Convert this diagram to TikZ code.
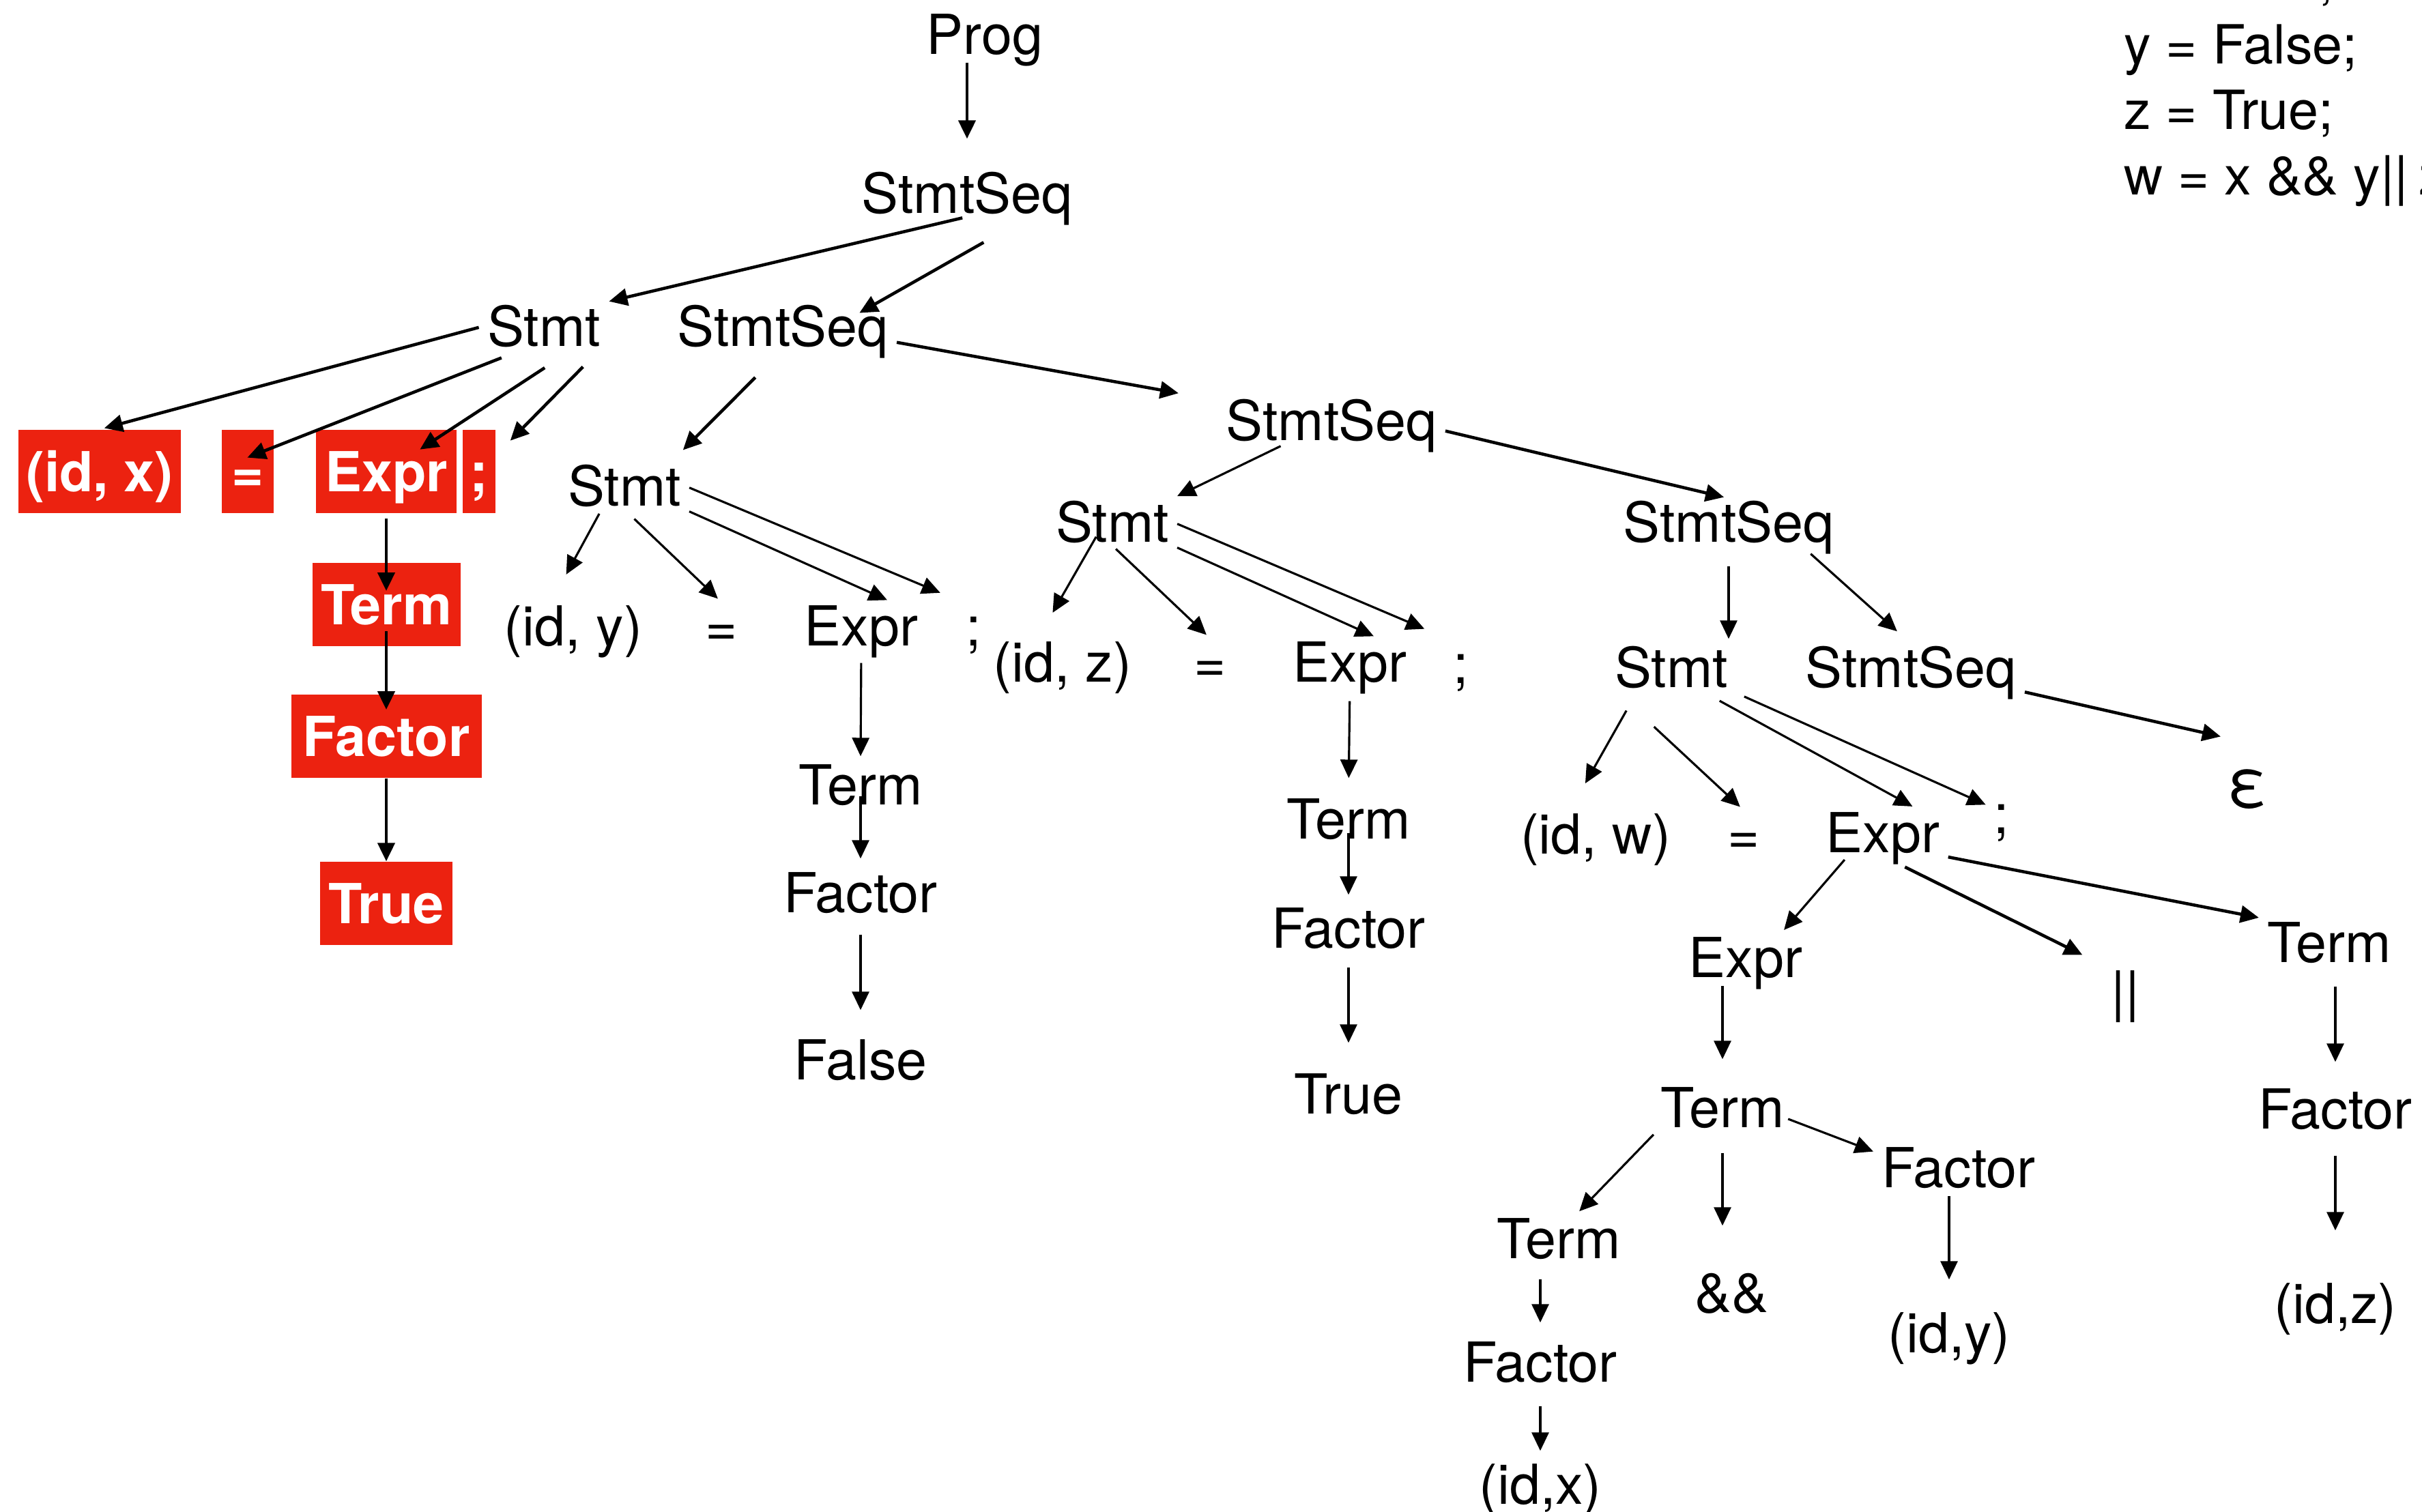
\documentclass[tikz,border=0pt]{standalone}
\usepackage{fontspec}
\setmainfont{TeX Gyre Heros}
\usepackage{xcolor}
\usetikzlibrary{arrows.meta}
\definecolor{hlred}{RGB}{236,34,16}

\begin{document}
\begin{tikzpicture}[
    font=\fontsize{23}{28}\selectfont,
    >={Triangle[length=2.7mm, width=2.5mm]},
    lbl/.style={inner sep=0.5mm, text height=5.8mm, text depth=0pt},
    hl/.style={lbl, fill=hlred, text=white, inner xsep=1mm, minimum height=12.2mm,
        font=\fontsize{23}{28}\selectfont\bfseries},
    code/.style={anchor=base west, font=\fontsize{22.5}{27}\selectfont},
    branch/.style={->, line width=1.3pt, shorten <=2pt, shorten >=2pt},
    thinbranch/.style={branch, line width=0.9pt}
]
    \useasboundingbox (0,0) rectangle (35.49,-22.16);

    \node[code] (code1) at (31.00,0.03) {x = True;};
    \node[code] (code2) at (31.00,-0.93) {y = False;};
    \node[code] (code3) at (31.00,-1.89) {z = True;};
    \node[code] (code4) at (31.00,-2.85) {w = x \&\& y||\hspace{-0.08em} z;};

    \node[lbl] (prog) at (14.43,-0.50) {Prog};
    \node[lbl] (seq1) at (14.17,-2.83) {StmtSeq};
    \node[lbl] (stmt1) at (7.97,-4.78) {Stmt};
    \node[lbl] (seq2) at (11.47,-4.78) {StmtSeq};

    \node[hl, minimum width=2.38cm] (idx) at (1.46,-6.91) {(id, x)};
    \node[hl, minimum width=0.76cm] (eqx) at (3.63,-6.91) {=};
    \node[hl, minimum width=2.06cm] (exprx) at (5.66,-6.91) {Expr};
    \node[hl, minimum width=0.48cm] (semix) at (7.02,-6.91) {;};
    \node[hl, minimum width=2.17cm] (termx) at (5.66,-8.86) {Term};
    \node[hl, minimum width=2.79cm] (factorx) at (5.66,-10.79) {Factor};
    \node[hl, minimum width=1.94cm] (truex) at (5.66,-13.24) {True};

    \node[lbl] (seq3) at (19.51,-6.16) {StmtSeq};
    \node[lbl] (stmt2) at (9.15,-7.12) {Stmt};
    \node[lbl] (idy) at (8.40,-9.17) {(id, y)};
    \node[lbl] (eqy) at (10.57,-9.17) {=};
    \node[lbl] (expry) at (12.62,-9.17) {Expr};
    \node[lbl] (semiy) at (14.27,-9.17) {;};
    \node[lbl] (termy) at (12.61,-11.50) {Term};
    \node[lbl] (factory) at (12.61,-13.08) {Factor};
    \node[lbl] (falsey) at (12.61,-15.53) {False};

    \node[lbl] (stmt3) at (16.30,-7.65) {Stmt};
    \node[lbl] (seq4) at (25.33,-7.65) {StmtSeq};
    \node[lbl] (idz) at (15.57,-9.70) {(id, z)};
    \node[lbl] (eqz) at (17.73,-9.70) {=};
    \node[lbl] (exprz) at (19.78,-9.70) {Expr};
    \node[lbl] (semiz) at (21.41,-9.72) {;};
    \node[lbl] (termz) at (19.76,-12.00) {Term};
    \node[lbl] (factorz) at (19.76,-13.60) {Factor};
    \node[lbl] (truez) at (19.76,-16.03) {True};

    \node[lbl] (stmt4) at (24.49,-9.78) {Stmt};
    \node[lbl] (seq5) at (28.00,-9.78) {StmtSeq};
    \node[lbl, font=\fontsize{28}{30}\selectfont] (eps) at (32.93,-11.53) {ε};
    \node[lbl] (idw) at (23.38,-12.22) {(id, w)};
    \node[lbl] (eqw) at (25.55,-12.22) {=};
    \node[lbl] (exprw) at (27.59,-12.20) {Expr};
    \node[lbl] (semiw) at (29.33,-11.92) {;};
    \node[lbl] (expr2) at (25.58,-14.03) {Expr};
    \node[lbl] (oror) at (31.14,-14.52) {||};
    \node[lbl] (termr) at (34.13,-13.81) {Term};
    \node[lbl] (term2) at (25.24,-16.23) {Term};
    \node[lbl] (factor2) at (28.70,-17.11) {Factor};
    \node[lbl] (factorr) at (34.22,-16.25) {Factor};
    \node[lbl] (term3) at (22.84,-18.15) {Term};
    \node[lbl] (andand) at (25.37,-18.94) {\&\&};
    \node[lbl] (idy2) at (28.56,-19.53) {(id,y)};
    \node[lbl] (idz2) at (34.22,-19.10) {(id,z)};
    \node[lbl] (factor3) at (22.57,-19.96) {Factor};
    \node[lbl] (idx2) at (22.57,-21.75) {(id,x)};

    \draw[branch, shorten >=4.5mm] (prog.south -| seq1.north) -- (seq1.north);
    \draw[branch] (seq1.south) -- (stmt1.north east);
    \draw[branch, shorten <=7.6mm, shorten >=-3.1mm] (seq1.-21) -- (seq2.14);
    \draw[branch] (stmt1.west) -- (idx.north);
    \draw[branch, shorten <=3.2mm, shorten >=4.1mm] (stmt1.-133) -- (eqx.172);
    \draw[branch, shorten <=4.8mm, shorten >=5.9mm] (stmt1.-40) -- (exprx.center);
    \draw[branch, shorten <=3.5mm, shorten >=3mm] (stmt1.-23) -- (semix.44);
    \draw[branch, shorten >=0pt] (exprx.south) -- ([yshift=2mm]termx.center);
    \draw[branch, shorten <=3.9mm, shorten >=3.9mm] (termx.center) -- (factorx.center);
    \draw[branch, shorten <=0pt, shorten >=0pt] (factorx.south) -- (truex.north);

    \draw[branch, shorten <=5.7mm, shorten >=2.5mm] (seq2.south) -- (stmt2.27);
    \draw[branch, shorten >=6.5mm] (seq2.-8) -- (seq3.170);
    \draw[thinbranch, shorten >=4.6mm] (stmt2.-134) -- (idy.133);
    \draw[thinbranch, shorten <=2mm] (stmt2.south) -- (eqy.north);
    \draw[thinbranch] (stmt2.south east) -- (expry.38);
    \draw[thinbranch, shorten >=3.5mm] (stmt2.east) -- (semiy.north west);
    \draw[thinbranch, shorten <=2mm] (expry.south) -- (termy.north);
    \draw[thinbranch, shorten <=-1.8mm, shorten >=1.5mm] (termy.south) -- (factory.north);
    \draw[thinbranch, shorten <=2.7mm, shorten >=3.8mm] (factory.south) -- (falsey.north);

    \draw[thinbranch] (seq3.-153) -- (stmt3.north east);
    \draw[branch] (seq3.-5) -- (seq4.north);
    \draw[thinbranch, shorten <=-1.5mm, shorten >=4.3mm] (stmt3.-132) -- (idz.136);
    \draw[thinbranch] (stmt3.south) -- (eqz.north);
    \draw[thinbranch] (stmt3.south east) -- (exprz.40);
    \draw[thinbranch, shorten >=4mm] (stmt3.east) -- (semiz.north west);
    \draw[thinbranch, shorten <=2.3mm, shorten >=2.5mm] (exprz.south) -- (termz.north);
    \draw[thinbranch, shorten <=-1.4mm, shorten >=1.4mm] (termz.south) -- (factorz.north);
    \draw[thinbranch, shorten <=2.3mm, shorten >=4mm] (factorz.south) -- (truez.north);

    \draw[thinbranch, shorten <=3mm] (seq4.south) -- (seq4.south |- stmt4.north);
    \draw[thinbranch, shorten <=1.8mm, shorten >=2.7mm] (seq4.-18) -- (seq5.north);
    \draw[branch, shorten >=4mm] (seq5.south east) -- ([yshift=3mm]eps.north);
    \draw[thinbranch, shorten <=3.3mm, shorten >=4.5mm] (stmt4.-145) -- (idw.137);
    \draw[thinbranch, shorten <=7.7mm] (stmt4.-157) -- (eqw.north);
    \draw[thinbranch, shorten <=3mm] (stmt4.-38) -- (exprw.35);
    \draw[thinbranch, shorten <=2mm] (stmt4.south east) -- (semiw.150);

    \draw[thinbranch] (exprw.-146) -- (expr2.34);
    \draw[branch, shorten <=3.6mm, shorten >=4mm] (exprw.south) -- (oror.north west);
    \draw[branch] (exprw.south east) -- (termr.north west);
    \draw[thinbranch, shorten >=3.6mm] (term2.north |- expr2.south) -- (term2.north);
    \draw[thinbranch, shorten <=3mm, shorten >=3.4mm] (factorr.north |- termr.south) -- (factorr.north);
    \draw[thinbranch, shorten <=3.4mm, shorten >=7.2mm] (factorr.south) -- (idz2.north);
    \draw[thinbranch] (term2.south west) -- (term3.54);
    \draw[thinbranch, shorten <=3.2mm, shorten >=6.3mm] (term2.south) -- (term2.south |- andand.north);
    \draw[thinbranch, shorten <=0pt] (term2.-10) -- (factor2.170);
    \draw[thinbranch, shorten >=4.3mm] (idy2.north |- factor2.south) -- (idy2.north);
    \draw[thinbranch, shorten <=2.5mm, shorten >=2.3mm] (factor3.north |- term3.south) -- (factor3.north);
    \draw[thinbranch, shorten <=3mm, shorten >=1.4mm] (factor3.south) -- (idx2.north);
\end{tikzpicture}
\end{document}
